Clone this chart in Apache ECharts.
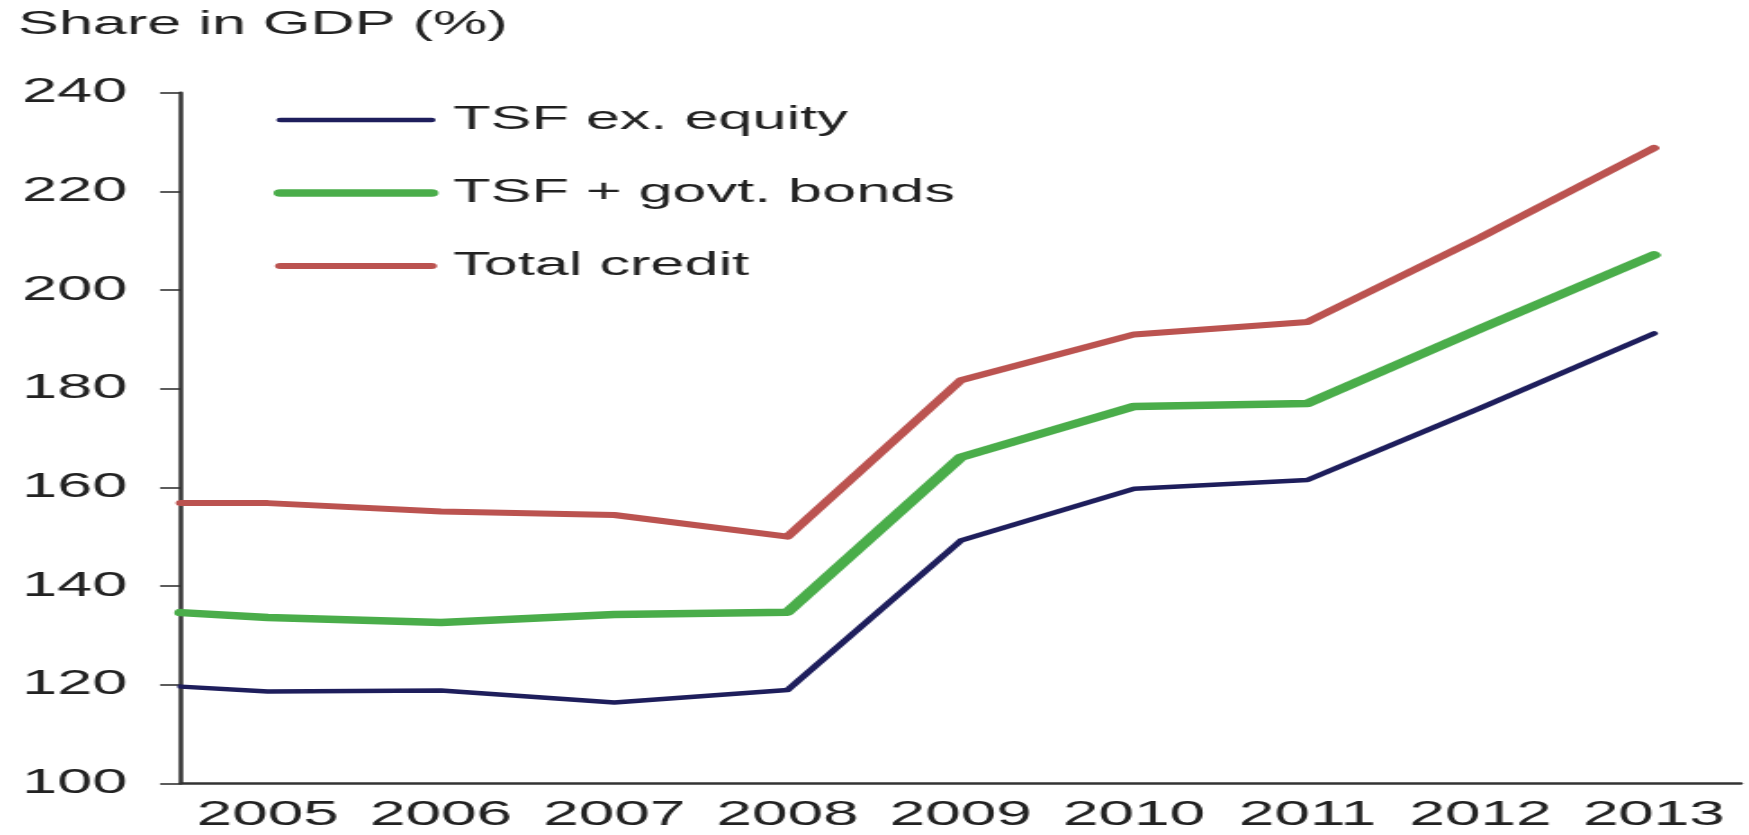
<!DOCTYPE html>
<html>
<head>
<meta charset="utf-8">
<title>Share in GDP (%)</title>
<script src="https://cdn.jsdelivr.net/npm/echarts@6/dist/echarts.min.js"></script>
<style>
  html, body { margin: 0; padding: 0; background: #fff; overflow: hidden; }
  #wrap { width: 1749px; height: 835px; overflow: hidden; }
  /* the chart is laid out narrow and widened, giving the broad lettering */
  #chart { width: 972px; height: 835px; transform: scaleX(1.8); transform-origin: 0 0; }
</style>
</head>
<body>
<div id="wrap"><div id="chart"></div></div>
<script>
// Years on the horizontal axis
const categories = ['2005', '2006', '2007', '2008', '2009', '2010', '2011', '2012', '2013'];

// Share in GDP (%), one value per year
const tsfExEquity   = [118.6, 118.8, 116.4, 118.9, 149.2, 159.7, 161.5, 176.1, 191.2];
const tsfGovtBonds  = [133.6, 132.6, 134.2, 134.7, 166.1, 176.4, 177.0, 192.2, 207.1];
const totalCredit   = [156.8, 155.1, 154.4, 150.0, 181.7, 191.0, 193.5, 210.7, 228.8];

// Level where each line enters the plot at the left edge of the axis
const openingLevels = [119.6, 134.6, 156.8];

const seriesNames = ['TSF ex. equity', 'TSF + govt. bonds', 'Total credit'];
const yTicks = [100, 120, 140, 160, 180, 200, 220, 240];

const FONT = '"Liberation Sans", Arial, sans-serif';
const INK = '#222';
const AXIS = '#333';

// category index -0.5 is the left boundary of the first year's slot
const AXIS_START = -0.5;
function toPoints(opening, values) {
  const pts = [[AXIS_START, opening]];
  values.forEach((v, i) => pts.push([i, v]));
  return pts;
}

const styles = [
  { color: '#1e1e5c', width: 4.5 },
  { color: '#4aad4a', width: 7.5 },
  { color: '#bb5350', width: 6 }
];
const valueSets = [tsfExEquity, tsfGovtBonds, totalCredit];

const chart = echarts.init(document.getElementById('chart'), null, { renderer: 'canvas' });

chart.setOption({
  animation: false,
  backgroundColor: '#fff',
  title: {
    text: 'Share in GDP (%)',
    left: 5,
    top: 3,
    textStyle: { fontFamily: FONT, fontSize: 34, fontWeight: 'normal', color: INK }
  },
  legend: {
    orient: 'vertical',
    left: 147,
    top: 95,
    itemWidth: 84,
    itemHeight: 14,
    itemGap: 33,
    data: seriesNames,
    itemStyle: { opacity: 0 },
    lineStyle: { width: 'inherit', cap: 'round' },
    textStyle: { fontFamily: FONT, fontSize: 34, color: INK, lineHeight: 40, padding: [0, 0, 0, 7] }
  },
  grid: { left: 100.6, right: 5, top: 92.7, bottom: 51.7, containLabel: false },
  xAxis: [
    {
      type: 'category',
      data: categories,
      boundaryGap: true,
      axisLine: { lineStyle: { color: AXIS, width: 2.5 } },
      axisTick: { interval: 0, length: 9, lineStyle: { color: AXIS, width: 1.6 } },
      axisLabel: { interval: 0, margin: 14, fontFamily: FONT, fontSize: 35.5, color: INK },
      splitLine: { show: false }
    },
    {
      type: 'value',
      min: AXIS_START,
      max: categories.length - 1 + 0.5,
      show: false
    }
  ],
  yAxis: {
    type: 'value',
    min: yTicks[0],
    max: yTicks[yTicks.length - 1],
    interval: 20,
    axisLine: { show: true, onZero: false, lineStyle: { color: AXIS, width: 2.5 } },
    axisTick: { show: true, length: 11.7, lineStyle: { color: AXIS, width: 1.6 } },
    axisLabel: { margin: 30, fontFamily: FONT, fontSize: 35, color: INK },
    splitLine: { show: false }
  },
  series: seriesNames.map((name, k) => ({
    name: name,
    type: 'line',
    xAxisIndex: 1,
    symbol: 'none',
    smooth: false,
    data: toPoints(openingLevels[k], valueSets[k]),
    itemStyle: { color: styles[k].color },
    lineStyle: { color: styles[k].color, width: styles[k].width, cap: 'round', join: 'round' }
  }))
});
</script>
</body>
</html>
